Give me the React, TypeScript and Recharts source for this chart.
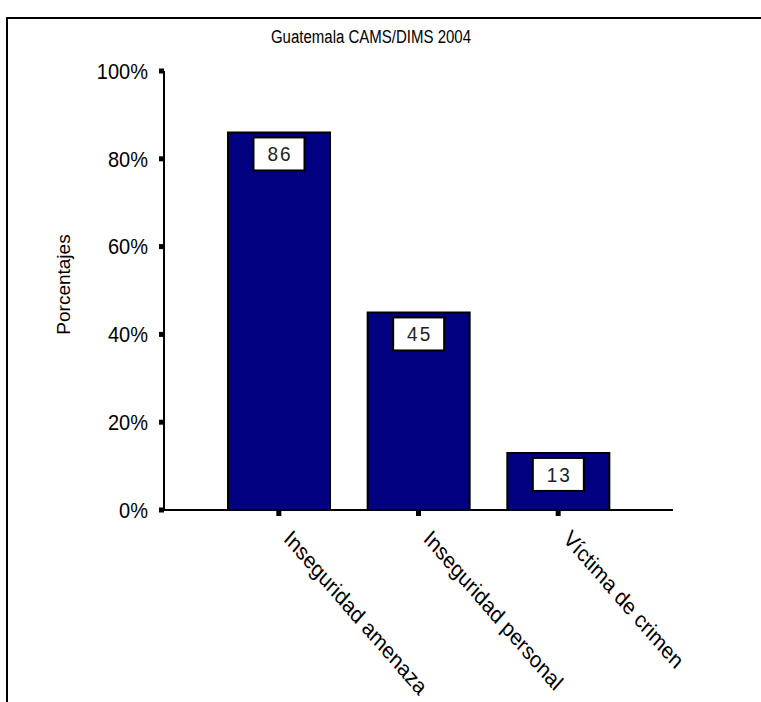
import React from 'react';
import { BarChart, Bar, XAxis, YAxis, LabelList } from 'recharts';

const categories = ['Inseguridad amenaza', 'Inseguridad personal', 'Víctima de crimen'];
const values = [86, 45, 13];
const yTicks = [0, 20, 40, 60, 80, 100];
const title = 'Guatemala CAMS/DIMS 2004';
const yLabel = 'Porcentajes';

const data = categories.map((name, i) => ({ name, value: values[i] }));

const FONT = '"Liberation Sans", Arial, sans-serif';

const XTick = (props: any) => {
  const { x, y, payload } = props;
  return (
    <g transform={`translate(${x + 4},${y + 22}) scale(1,1.15) rotate(45)`}>
      <text x={0} y={0} textAnchor="start" fontSize={20} fill="#000" fontFamily={FONT}>
        {payload.value}
      </text>
    </g>
  );
};

const YTick = (props: any) => {
  const { x, y, payload } = props;
  return (
    <g transform={`translate(${x},${y}) scale(1,1.1)`}>
      <text x={0} y={0} textAnchor="end" dominantBaseline="central" fontSize={20} fill="#000" fontFamily={FONT}>
        {payload.value}%
      </text>
    </g>
  );
};

const ValueBox = (props: any) => {
  const { x, y, width, value } = props;
  const cx = x + width / 2;
  const top = y + 5;
  const w = 51;
  const h = 33;
  return (
    <g>
      <rect x={cx - w / 2} y={top} width={w} height={h} fill="#fff" stroke="#000" strokeWidth={2} />
      <g transform={`translate(${cx + 1},${top + h / 2}) scale(1,1.1)`}>
        <text x={0} y={0} textAnchor="middle" dominantBaseline="central" fontSize={19} letterSpacing={2} fill="#222" fontFamily={FONT}>
          {value}
        </text>
      </g>
    </g>
  );
};

const YLabelContent = (props: any) => {
  const vb = props.viewBox;
  const cy = vb && typeof vb.y === 'number' ? vb.y + vb.height / 2 - 6 : 284;
  return (
    <g transform={`translate(63,${cy}) rotate(-90)`}>
      <text x={0} y={0} textAnchor="middle" dominantBaseline="central" fontSize={19} fill="#000" fontFamily={FONT}>
        {yLabel}
      </text>
    </g>
  );
};

export default function App() {
  return (
    <div style={{ position: 'absolute', left: 0, top: 0, width: 761, height: 702, overflow: 'hidden', background: '#fff' }}>
      <div
        style={{
          position: 'absolute',
          left: 6,
          top: 17,
          width: 800,
          height: 720,
          borderTop: '2px solid #000',
          borderLeft: '2px solid #000',
        }}
      />
      <div
        style={{
          position: 'absolute',
          left: 0,
          top: 28,
          width: 742,
          textAlign: 'center',
          fontSize: 15,
          lineHeight: '17px',
          fontFamily: FONT,
          color: '#000',
          transform: 'scaleY(1.2)',
        }}
      >
        {title}
      </div>
      <div style={{ position: 'absolute', left: 0, top: 0 }}>
        <BarChart width={761} height={702} data={data} margin={{ top: 71, right: 88, left: 0, bottom: 0 }}>
          <XAxis
            dataKey="name"
            height={192}
            interval={0}
            padding={{ left: 45, right: 45 }}
            axisLine={{ stroke: '#000', strokeWidth: 2 }}
            tickLine={{ stroke: '#000', strokeWidth: 5 }}
            tickSize={6}
            tick={<XTick />}
          />
          <YAxis
            width={164}
            domain={[0, 100]}
            ticks={yTicks}
            interval={0}
            axisLine={{ stroke: '#000', strokeWidth: 2 }}
            tickLine={{ stroke: '#000', strokeWidth: 5 }}
            tickSize={5}
            tickMargin={11}
            tick={<YTick />}
            label={{ content: <YLabelContent /> }}
          />
          <Bar dataKey="value" fill="#000080" stroke="#000" strokeWidth={2} barSize={102} isAnimationActive={false}>
            <LabelList dataKey="value" content={<ValueBox />} />
          </Bar>
        </BarChart>
      </div>
    </div>
  );
}
